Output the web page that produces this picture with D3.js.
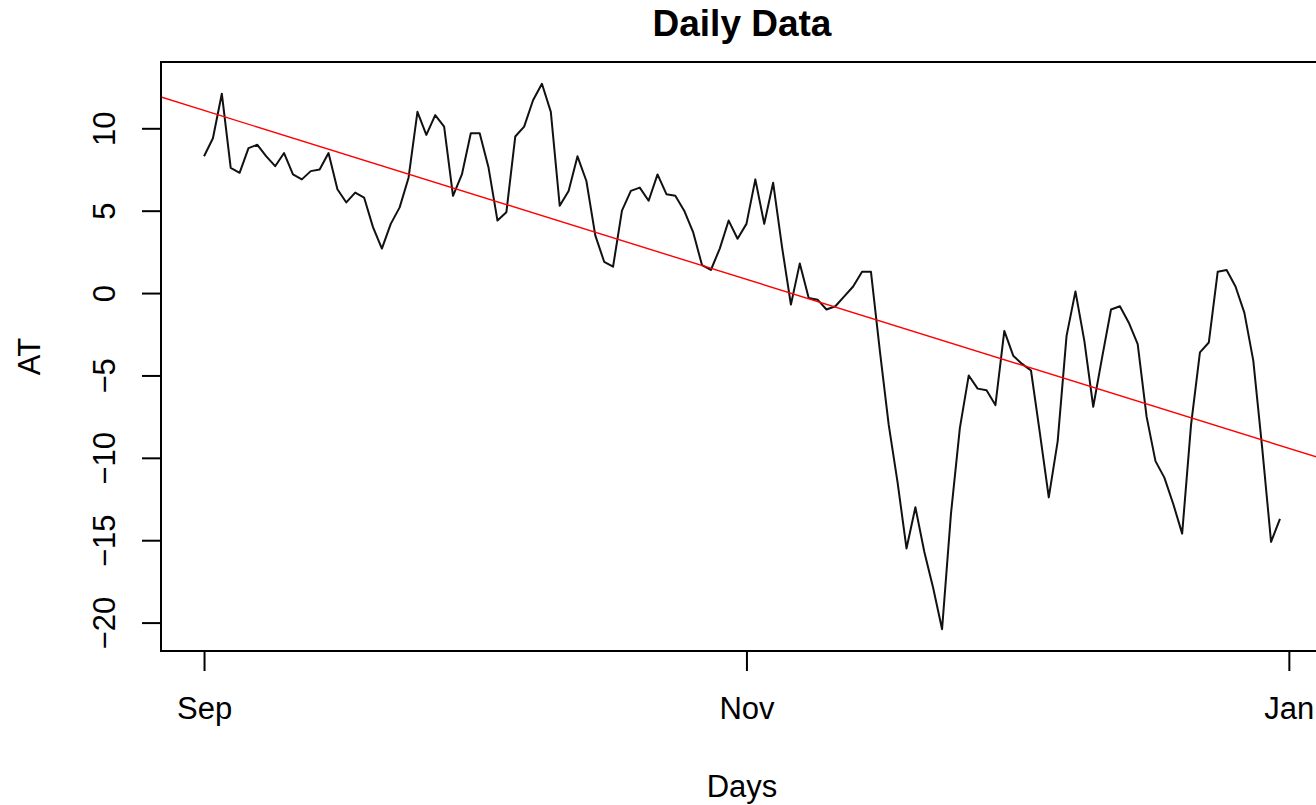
<!DOCTYPE html>
<html>
<head>
<meta charset="utf-8">
<script src="https://cdn.jsdelivr.net/npm/d3@7"></script>
<style>
  body { margin: 0; background: #fff; }
  svg { display: block; font-family: "Liberation Sans", Arial, sans-serif; }
</style>
</head>
<body>
<svg id="chart" width="1316" height="805"></svg>
<script>
// daily AT values, Sep 1 .. Dec 31
const startDay = new Date(2013, 8, 1);
const atValues = [
  8.3, 9.4, 12.1, 7.6, 7.3, 8.8, 9.0, 8.3, 7.7, 8.5,
  7.2, 6.9, 7.4, 7.5, 8.5, 6.3, 5.5, 6.1, 5.8, 4.0,
  2.7, 4.2, 5.2, 7.0, 11.0, 9.6, 10.8, 10.1, 5.9, 7.2,
  9.7, 9.7, 7.6, 4.4, 4.9, 9.5, 10.1, 11.7, 12.7, 11.0,
  5.3, 6.2, 8.3, 6.8, 3.5, 1.9, 1.6, 5.0, 6.2, 6.4,
  5.6, 7.2, 6.0, 5.9, 5.0, 3.7, 1.7, 1.4, 2.7, 4.4,
  3.3, 4.2, 6.9, 4.2, 6.7, 2.8, -0.7, 1.8, -0.3, -0.4,
  -1.0, -0.8, -0.2, 0.4, 1.3, 1.3, -3.5, -8.0, -11.5, -15.5,
  -13.0, -15.7, -17.9, -20.4, -13.4, -8.2, -5.0, -5.8, -5.9, -6.8,
  -2.3, -3.8, -4.3, -4.7, -8.5, -12.4, -9.0, -2.6, 0.1, -2.9,
  -6.9, -3.9, -1.0, -0.8, -1.8, -3.1, -7.5, -10.2, -11.2, -12.8,
  -14.6, -8.0, -3.6, -3.0, 1.3, 1.4, 0.4, -1.2, -4.1, -9.4,
  -15.1, -13.7
];
const yTicks = [-20, -15, -10, -5, 0, 5, 10];
const xTickDates = [new Date(2013, 8, 1), new Date(2013, 10, 1), new Date(2014, 0, 1)];
const xTickLabels = ["Sep", "Nov", "Jan"];

const data = atValues.map((v, i) => ({ date: d3.timeDay.offset(startDay, i), day: i, value: v }));

const svg = d3.select("#chart");
const box = { left: 161, right: 1323, top: 62, bottom: 651 };
const dayMs = 864e5;

// R style 4% padding on both axes
const xExt = d3.extent(data, d => d.date);
const xPad = (xExt[1] - xExt[0]) * 0.04;
const x = d3.scaleTime()
  .domain([new Date(+xExt[0] - xPad), new Date(+xExt[1] + xPad)])
  .range([box.left, box.right]);

const yExt = d3.extent(atValues);
const yPad = (yExt[1] - yExt[0]) * 0.04;
const y = d3.scaleLinear()
  .domain([yExt[0] - yPad, yExt[1] + yPad])
  .range([box.bottom, box.top]);

svg.append("defs").append("clipPath").attr("id", "plotclip")
  .append("rect")
  .attr("x", box.left).attr("y", box.top)
  .attr("width", box.right - box.left).attr("height", box.bottom - box.top);

// least squares fit, drawn like abline
const mx = d3.mean(data, d => d.day), my = d3.mean(atValues);
const slope = d3.sum(data, d => (d.day - mx) * (d.value - my)) / d3.sum(data, d => (d.day - mx) ** 2);
const intercept = my - slope * mx;
const dLo = (x.domain()[0] - startDay) / dayMs, dHi = (x.domain()[1] - startDay) / dayMs;

const line = d3.line().x(d => x(d.date)).y(d => y(d.value));

svg.append("path")
  .datum(data)
  .attr("clip-path", "url(#plotclip)")
  .attr("fill", "none")
  .attr("stroke", "#111")
  .attr("stroke-width", 2)
  .attr("stroke-linejoin", "round")
  .attr("d", line);

svg.append("line")
  .attr("clip-path", "url(#plotclip)")
  .attr("x1", x(x.domain()[0])).attr("y1", y(intercept + slope * dLo))
  .attr("x2", x(x.domain()[1])).attr("y2", y(intercept + slope * dHi))
  .attr("stroke", "#ff0000")
  .attr("stroke-width", 1.4);

svg.append("rect")
  .attr("x", box.left).attr("y", box.top)
  .attr("width", box.right - box.left).attr("height", box.bottom - box.top)
  .attr("fill", "none").attr("stroke", "#000").attr("stroke-width", 2);

const xAxis = svg.append("g")
  .attr("transform", `translate(0,${box.bottom})`)
  .call(d3.axisBottom(x).tickValues(xTickDates).tickSize(20)
    .tickFormat((d, i) => xTickLabels[i]));
xAxis.select(".domain").remove();
xAxis.selectAll(".tick line").attr("stroke", "#000").attr("stroke-width", 2);
xAxis.selectAll(".tick text")
  .attr("fill", "#000").attr("font-size", 31).attr("dy", null).attr("y", 68)
  .style("font-family", "Liberation Sans, Arial, sans-serif");

const yAxis = svg.append("g")
  .attr("transform", `translate(${box.left},0)`)
  .call(d3.axisLeft(y).tickValues(yTicks).tickSize(19));
yAxis.select(".domain").remove();
yAxis.selectAll(".tick line").attr("stroke", "#000").attr("stroke-width", 2);
yAxis.selectAll(".tick text")
  .attr("fill", "#000").attr("font-size", 31)
  .attr("x", null).attr("dy", null)
  .attr("text-anchor", "middle")
  .attr("transform", "translate(-46,0) rotate(-90)")
  .style("font-family", "Liberation Sans, Arial, sans-serif");

svg.append("text")
  .attr("x", (box.left + box.right) / 2).attr("y", 36)
  .attr("text-anchor", "middle")
  .attr("font-size", 37).attr("font-weight", "bold")
  .text("Daily Data");

svg.append("text")
  .attr("x", (box.left + box.right) / 2).attr("y", 797)
  .attr("text-anchor", "middle")
  .attr("font-size", 31)
  .text("Days");

svg.append("text")
  .attr("transform", `translate(40,${(box.top + box.bottom) / 2}) rotate(-90)`)
  .attr("text-anchor", "middle")
  .attr("font-size", 31)
  .text("AT");
</script>
</body>
</html>
